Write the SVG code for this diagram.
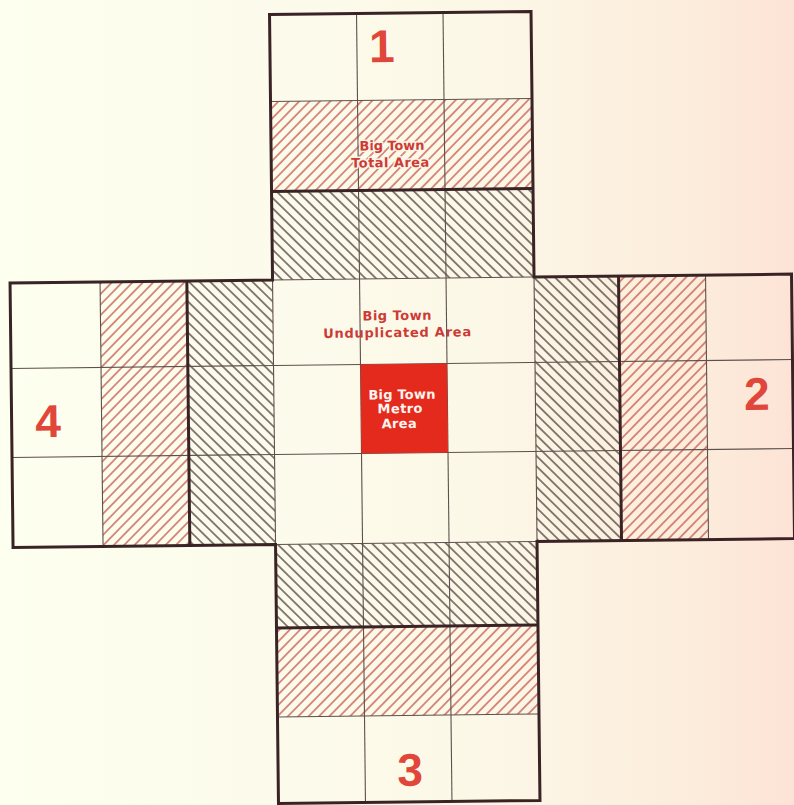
<svg xmlns="http://www.w3.org/2000/svg" width="794" height="805" viewBox="0 0 794 805">
  <defs>
    <linearGradient id="bg" x1="0" y1="0" x2="1" y2="0">
      <stop offset="0" stop-color="#fdffef"/>
      <stop offset="0.6" stop-color="#fcf8e8"/>
      <stop offset="0.88" stop-color="#fcecdb"/>
      <stop offset="1" stop-color="#fde3d6"/>
    </linearGradient>
    <pattern id="hatchRed" patternUnits="userSpaceOnUse" width="7.4" height="10" patternTransform="rotate(45)">
      <line x1="3.7" y1="0" x2="3.7" y2="10" stroke="#c45548" stroke-width="1.3"/>
    </pattern>
    <pattern id="hatchBlack" patternUnits="userSpaceOnUse" width="7.4" height="10" patternTransform="rotate(-45)">
      <line x1="3.7" y1="0" x2="3.7" y2="10" stroke="#3f302e" stroke-width="1.2"/>
    </pattern>
    <style>
      .red { fill: url(#hatchRed); }
      .blk { fill: url(#hatchBlack); }
      .thin { stroke: #5e504c; stroke-width: 1.1; fill: none; }
      .thick { stroke: #3a2325; stroke-width: 3; fill: none; stroke-linejoin: miter; }
      .num { font-family: "Liberation Sans", "DejaVu Sans", sans-serif; font-weight: bold; font-size: 46px; fill: #e0473a; text-anchor: middle; }
      .lbl { font-family: "DejaVu Sans", "Liberation Sans", sans-serif; font-weight: bold; font-size: 13px; fill: #cc3b35; text-anchor: middle; }
      .halo { stroke: #fbf4e6; stroke-width: 3; paint-order: stroke; stroke-linejoin: round; }
      .wht { font-family: "DejaVu Sans", "Liberation Sans", sans-serif; font-weight: bold; font-size: 13px; fill: #fff4ee; text-anchor: middle; }
    </style>
  </defs>

  <rect x="0" y="0" width="794" height="805" fill="url(#bg)"/>

  <g transform="rotate(-0.65 402 408)">
    <!-- hatched bands -->
    <g id="arm-1">
      <rect class="red" x="274" y="100" width="261.5" height="90"/>
      <rect class="blk" x="274" y="190" width="261.5" height="88.5"/>
    </g>
    <g id="arm-4">
      <rect class="red" x="101.5" y="278.5" width="86.8" height="264.5"/>
      <rect class="blk" x="188.3" y="278.5" width="85.7" height="264.5"/>
    </g>
    <g id="arm-2">
      <rect class="blk" x="535.5" y="278.5" width="84.5" height="264.5"/>
      <rect class="red" x="620" y="278.5" width="87" height="264.5"/>
    </g>
    <g id="arm-3">
      <rect class="blk" x="274" y="543" width="261.5" height="83.5"/>
      <rect class="red" x="274" y="626.5" width="261.5" height="89"/>
    </g>

    <!-- thin grid lines -->
    <g id="grid">
      <line class="thin" x1="361" y1="13" x2="361" y2="802"/>
      <line class="thin" x1="447.5" y1="13" x2="447.5" y2="802"/>
      <line class="thin" x1="101.5" y1="278.5" x2="101.5" y2="543"/>
      <line class="thin" x1="274" y1="278.5" x2="274" y2="543"/>
      <line class="thin" x1="535.5" y1="278.5" x2="535.5" y2="543"/>
      <line class="thin" x1="707" y1="278.5" x2="707" y2="543"/>
      <line class="thin" x1="11.5" y1="364" x2="793" y2="364"/>
      <line class="thin" x1="11.5" y1="453" x2="793" y2="453"/>
      <line class="thin" x1="274" y1="100" x2="535.5" y2="100"/>
      <line class="thin" x1="274" y1="278.5" x2="535.5" y2="278.5"/>
      <line class="thin" x1="274" y1="543" x2="535.5" y2="543"/>
      <line class="thin" x1="274" y1="715.5" x2="535.5" y2="715.5"/>
    </g>

    <!-- thick lines -->
    <g id="borders">
      <line class="thick" x1="274" y1="190" x2="535.5" y2="190"/>
      <line class="thick" x1="274" y1="626.5" x2="535.5" y2="626.5"/>
      <line class="thick" x1="188.3" y1="278.5" x2="188.3" y2="543"/>
      <line class="thick" x1="620" y1="278.5" x2="620" y2="543"/>
      <polygon class="thick" points="274,13 535.5,13 535.5,278.5 793,278.5 793,543 535.5,543 535.5,802 274,802 274,543 11.5,543 11.5,278.5 274,278.5"/>
    </g>

    <!-- centre -->
    <g id="metro">
      <rect x="361" y="364" width="86.5" height="89" fill="#e4291d"/>
      <text class="wht" x="402" y="399" textLength="67" lengthAdjust="spacing">Big Town</text>
      <text class="wht" x="400" y="413" textLength="45" lengthAdjust="spacing">Metro</text>
      <text class="wht" x="399" y="428" textLength="35" lengthAdjust="spacing">Area</text>
    </g>
    <g id="unduplicated">
      <text class="lbl" x="398" y="320" textLength="69" lengthAdjust="spacing">Big Town</text>
      <text class="lbl" x="398" y="337" textLength="148" lengthAdjust="spacing">Unduplicated Area</text>
    </g>
    <g id="total">
      <text class="lbl halo" x="395" y="150" textLength="65" lengthAdjust="spacing">Big Town</text>
      <text class="lbl halo" x="393" y="167" textLength="78" lengthAdjust="spacing">Total Area</text>
    </g>

    <!-- numbers -->
    <text class="num" x="386" y="62">1</text>
    <text class="num" x="757" y="414">2</text>
    <text class="num" x="406" y="786">3</text>
    <text class="num" x="48" y="433">4</text>
  </g>
</svg>
